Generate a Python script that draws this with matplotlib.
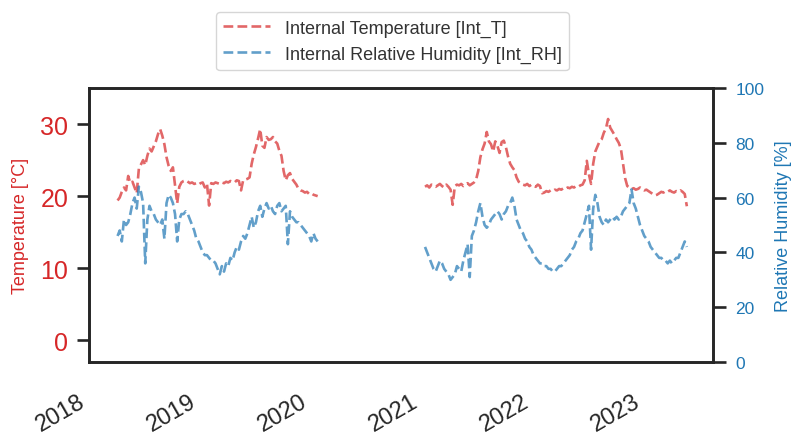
import numpy as np
import pandas as pd
import matplotlib
matplotlib.use('Agg')
import matplotlib.pyplot as plt
import matplotlib.dates as mdates

plt.rcParams['font.family'] = ['Liberation Sans', 'DejaVu Sans']

# weekly readings, first logging period (Apr 2018 - Jan 2020)
start_1 = '2018-04-05'
temp_1 = [19.4, 19.8, 20.6, 21.2, 20.8, 22.8, 21.8, 22.0, 21.2, 20.4,
          23.8, 24.4, 25.0, 24.3, 25.6, 26.6, 26.2, 26.9, 27.6, 28.6,
          29.3, 28.4, 27.2, 25.4, 24.2, 23.5, 24.0, 21.5, 19.0, 21.3,
          21.9, 22.1, 22.2, 22.0, 21.8, 21.9, 21.7, 21.8, 21.6, 21.8,
          21.9, 21.2, 21.7, 18.7, 21.8, 21.7, 21.9, 21.8, 21.7, 21.9,
          21.8, 22.0, 21.9, 22.1, 22.0, 21.9, 22.2, 22.1, 20.8, 22.2,
          22.3, 22.4, 22.6, 24.5, 25.8, 26.8, 28.0, 29.3, 27.0, 26.7,
          28.2, 27.8, 27.9, 28.2, 27.6, 27.3, 26.3, 25.6, 23.5, 22.2,
          22.9, 23.2, 22.4, 22.0, 21.6, 21.0, 20.8, 20.7, 20.5, 20.6,
          20.3, 20.4, 20.2, 20.1, 20.0]
rh_1 = [46, 48, 44, 52, 50, 51, 54, 58, 60, 56,
        64, 62, 58, 36, 52, 57, 55, 54, 52, 51,
        50, 52, 45, 58, 61, 60, 58, 54, 44, 52,
        54, 54, 55, 54, 52, 50, 48, 45, 44, 42,
        40, 39, 39, 38, 37, 37, 36, 34, 32, 35,
        33, 36, 35, 38, 37, 40, 42, 41, 44, 46,
        45, 47, 50, 53, 49, 51, 55, 57, 53, 56,
        58, 56, 57, 55, 54, 57, 58, 55, 56, 57,
        43, 55, 53, 52, 51, 51, 50, 49, 48, 47,
        46, 44, 47, 45, 44]

# weekly readings, second logging period (Jan 2021 - May 2023)
start_2 = '2021-01-10'
temp_2 = [21.3, 21.5, 21.2, 21.6, 21.4, 21.3, 21.5, 21.7, 21.4, 21.2,
          21.6, 21.3, 20.9, 18.8, 21.4, 21.6, 21.5, 21.7, 21.4, 21.6,
          21.8, 21.5, 21.7, 21.9, 22.3, 23.5, 25.4, 26.5, 27.3, 28.9,
          27.6, 27.2, 26.2, 27.6, 27.0, 26.0, 27.5, 27.7, 26.8, 25.5,
          24.5, 24.0, 23.6, 22.6, 22.0, 21.8, 21.6, 21.5, 21.7, 21.4,
          21.6, 21.5, 21.3, 21.6, 21.4, 20.4, 20.5, 20.7, 20.6, 20.8,
          20.7, 20.9, 20.8, 21.0, 20.9, 21.1, 21.0, 21.2, 21.1, 21.3,
          21.2, 21.4, 21.3, 21.5, 21.6, 22.2, 24.9, 23.0, 21.7, 24.5,
          26.2, 26.9, 27.6, 27.9, 28.8, 29.4, 30.7, 29.5, 29.0, 28.5,
          27.9, 27.4, 26.6, 24.5, 22.5, 21.4, 21.2, 21.0, 21.1, 20.9,
          21.0, 21.2, 21.0, 20.8, 20.9, 20.7, 20.5, 20.3, 20.1, 20.2,
          20.4, 20.6, 20.5, 20.7, 20.6, 20.8, 20.6, 20.5, 20.7, 20.6,
          20.8, 20.6, 20.3, 18.6]
rh_2 = [42, 40, 38, 36, 34, 33, 35, 37, 36, 34,
        33, 32, 30, 31, 32, 35, 34, 33, 37, 40,
        43, 31, 46, 48, 51, 55, 58, 53, 50, 49,
        50, 52, 53, 54, 55, 54, 52, 54, 55, 57,
        58, 60, 57, 52, 50, 48, 47, 45, 44, 42,
        41, 39, 38, 37, 36, 36, 35, 35, 34, 34,
        33, 33, 34, 35, 35, 36, 37, 38, 39, 41,
        42, 44, 45, 47, 48, 51, 54, 57, 41, 56,
        61, 58, 53, 51, 50, 52, 51, 52, 53, 52,
        53, 52, 53, 55, 56, 57, 58, 63, 58, 56,
        53, 50, 48, 46, 45, 44, 42, 41, 40, 39,
        38, 38, 37, 37, 36, 37, 36, 37, 38, 38,
        40, 42, 44, 42]


def weekly(start, values):
    idx = pd.date_range(start, periods=len(values), freq='7D')
    return pd.Series(values, index=idx, dtype=float)


# NaN in the gap so the line breaks between the two periods
gap = pd.Series([np.nan], index=[pd.Timestamp('2020-07-01')])
temp = pd.concat([weekly(start_1, temp_1), gap, weekly(start_2, temp_2)])
rh = pd.concat([weekly(start_1, rh_1), gap, weekly(start_2, rh_2)])

red = '#d62728'
blue = '#1f77b4'
dark = '#262626'

fig, ax = plt.subplots(figsize=(7.98, 4.35), dpi=100)
fig.subplots_adjust(left=0.1115, right=0.8935, top=0.7954, bottom=0.1655)
ax2 = ax.twinx()

l1, = ax.plot(temp.index, temp.values, '--', color=red, alpha=0.7, lw=1.9,
              label='Internal Temperature [Int_T]')
l2, = ax2.plot(rh.index, rh.values, '--', color=blue, alpha=0.7, lw=1.9,
               label='Internal Relative Humidity [Int_RH]')

ax.set_xlim(pd.Timestamp('2018-01-01'), pd.Timestamp('2023-08-15'))
ax.set_ylim(-3, 35)
ax.set_yticks([0, 10, 20, 30])
ax2.set_ylim(0, 100)
ax2.set_yticks(range(0, 101, 20))

ax.set_ylabel('Temperature [°C]', color=red, fontsize=13, labelpad=8)
ax2.set_ylabel('Relative Humidity [%]', color=blue, fontsize=13, labelpad=8)

ax.tick_params(axis='y', labelcolor=red, labelsize=18, length=9, width=1.9,
               color=dark, pad=6)
ax2.tick_params(axis='y', labelcolor=blue, labelsize=12.5, length=9, width=1.9,
                color=dark, pad=7)
ax.tick_params(axis='x', labelsize=17, labelcolor=dark, length=0, pad=20)
ax.xaxis.set_major_locator(mdates.YearLocator())
ax.xaxis.set_major_formatter(mdates.DateFormatter('%Y'))
for lab in ax.get_xticklabels():
    lab.set_rotation(30)
    lab.set_ha('right')

for a in (ax, ax2):
    for sp in a.spines.values():
        sp.set_linewidth(1.9)
        sp.set_color(dark)

leg = fig.legend(handles=[l1, l2], loc='upper center', bbox_to_anchor=(0.492, 0.99),
                 fontsize=13, handlelength=2.6, frameon=True)
for t in leg.get_texts():
    t.set_color('#333333')

fig.savefig('out.png', dpi=100)
